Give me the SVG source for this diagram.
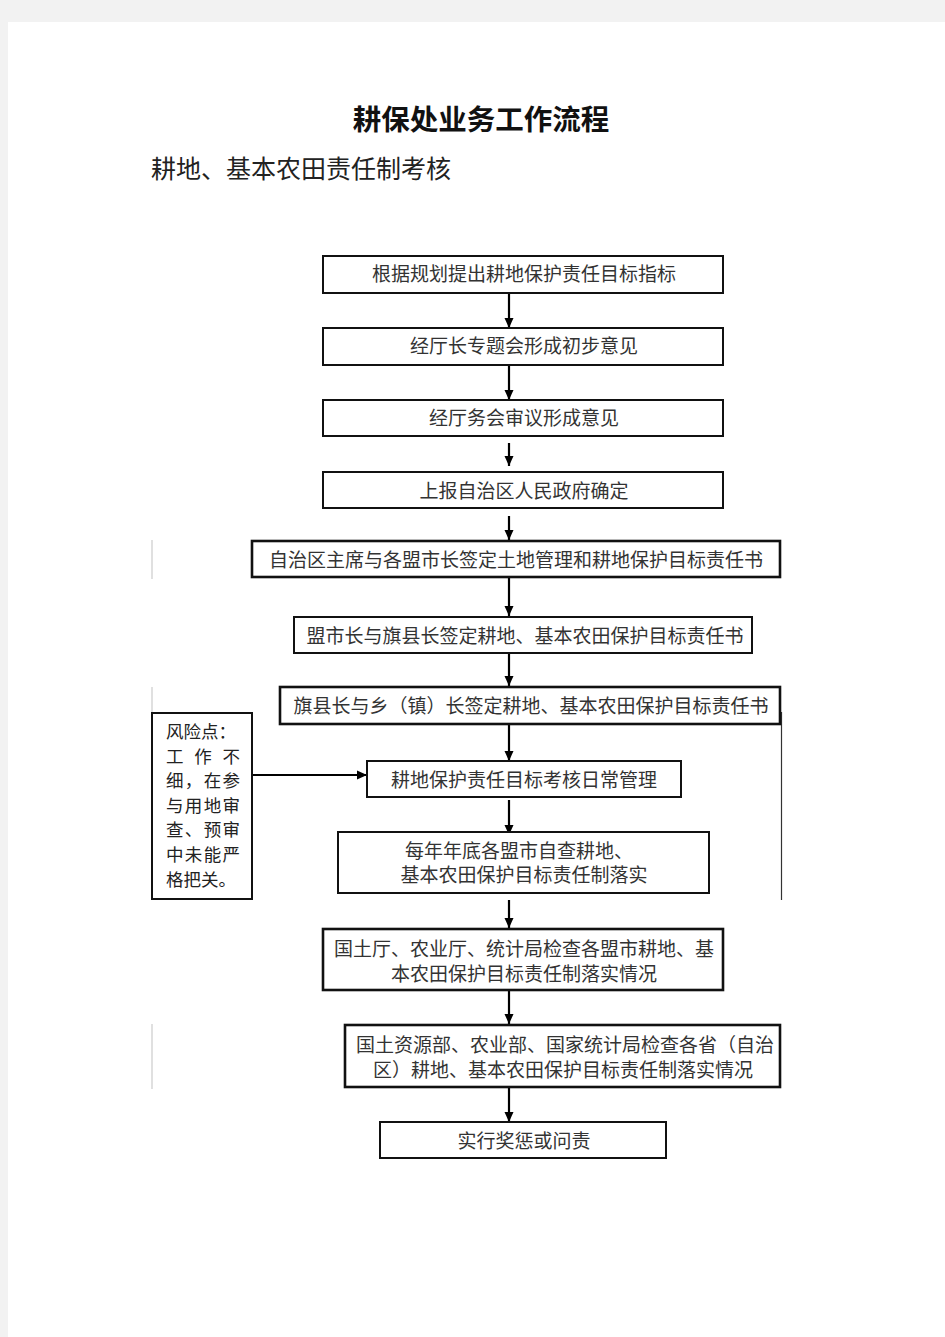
<svg xmlns="http://www.w3.org/2000/svg" width="945" height="1337" viewBox="0 0 945 1337">
<defs>
<marker id="ah" markerWidth="11" markerHeight="11" refX="10" refY="5.5" orient="auto" markerUnits="userSpaceOnUse">
<path d="M0,1 L10,5.5 L0,10 Z" fill="#000"/>
</marker>
<style>
.bx{fill:#fff;stroke:#111;stroke-width:2}
.bk{fill:#fff;stroke:#111;stroke-width:2.6}
.t{font-family:"Liberation Serif","Noto Sans CJK SC",serif;font-size:19px;fill:#333;text-anchor:middle}
.r{font-family:"Liberation Serif","Noto Sans CJK SC",serif;font-size:17.5px;fill:#222}
.c{stroke:#000;stroke-width:2.2;fill:none;marker-end:url(#ah)}
.f{stroke:#ccc;stroke-width:1.2}
</style>
</defs>
<rect x="0" y="0" width="945" height="1337" fill="#f2f2f2"/>
<rect x="8" y="22" width="937" height="1315" fill="#fff"/>
<text x="481" y="130" font-family="'Liberation Serif','Noto Sans CJK SC',serif" font-size="28.5" font-weight="bold" fill="#111" text-anchor="middle">耕保处业务工作流程</text>
<text x="151" y="178" font-family="'Liberation Serif','Noto Sans CJK SC',serif" font-size="25" fill="#222">耕地、基本农田责任制考核</text>

<g id="faint">
<line class="f" x1="152" y1="540" x2="152" y2="579"/>
<line class="f" x1="152" y1="687" x2="152" y2="713"/>
<line class="f" x1="152" y1="1024" x2="152" y2="1089"/>
<line x1="781.5" y1="712" x2="781.5" y2="900" stroke="#333" stroke-width="1.2"/>
</g>

<g id="connectors">
<line class="c" x1="509" y1="293" x2="509" y2="328"/>
<line class="c" x1="509" y1="365" x2="509" y2="400"/>
<line class="c" x1="509" y1="443" x2="509" y2="466"/>
<line class="c" x1="509" y1="516" x2="509" y2="540"/>
<line class="c" x1="509" y1="577" x2="509" y2="616"/>
<line class="c" x1="509" y1="653" x2="509" y2="686"/>
<line class="c" x1="509" y1="724" x2="509" y2="761"/>
<line class="c" x1="509" y1="800" x2="509" y2="835"/>
<line class="c" x1="509" y1="900" x2="509" y2="928"/>
<line class="c" x1="509" y1="988" x2="509" y2="1024"/>
<line class="c" x1="509" y1="1087" x2="509" y2="1122"/>
<line class="c" x1="252" y1="775" x2="367" y2="775"/>
</g>

<g id="n1"><rect class="bx" x="323" y="256" width="400" height="37"/><text class="t" x="524" y="281">根据规划提出耕地保护责任目标指标</text></g>
<g id="n2"><rect class="bx" x="323" y="328" width="400" height="37"/><text class="t" x="524" y="353">经厅长专题会形成初步意见</text></g>
<g id="n3"><rect class="bx" x="323" y="400" width="400" height="36"/><text class="t" x="524" y="425">经厅务会审议形成意见</text></g>
<g id="n4"><rect class="bx" x="323" y="472" width="400" height="36"/><text class="t" x="524" y="498">上报自治区人民政府确定</text></g>
<g id="n5"><rect class="bk" x="252" y="541" width="528" height="36"/><text class="t" x="516" y="567">自治区主席与各盟市长签定土地管理和耕地保护目标责任书</text></g>
<g id="n6"><rect class="bx" x="294" y="617" width="458" height="36"/><text class="t" x="525" y="643">盟市长与旗县长签定耕地、基本农田保护目标责任书</text></g>
<g id="n7"><rect class="bk" x="280" y="687" width="500" height="37"/><text class="t" x="531" y="713">旗县长与乡（镇）长签定耕地、基本农田保护目标责任书</text></g>
<g id="n8"><rect class="bx" x="367" y="761" width="314" height="36"/><text class="t" x="524" y="787">耕地保护责任目标考核日常管理</text></g>
<g id="n9"><rect class="bx" x="338" y="832" width="371" height="61"/><text class="t" x="519" y="858">每年年底各盟市自查耕地、</text><text class="t" x="524" y="882">基本农田保护目标责任制落实</text></g>
<g id="n10"><rect class="bk" x="323" y="929" width="400" height="61"/><text class="t" x="524" y="956">国土厅、农业厅、统计局检查各盟市耕地、基</text><text class="t" x="524" y="981">本农田保护目标责任制落实情况</text></g>
<g id="n11"><rect class="bk" x="345" y="1025" width="435" height="62"/><text class="t" x="565" y="1052">国土资源部、农业部、国家统计局检查各省（自治</text><text class="t" x="563" y="1077">区）耕地、基本农田保护目标责任制落实情况</text></g>
<g id="n12"><rect class="bx" x="380" y="1122" width="286" height="36"/><text class="t" x="524" y="1148">实行奖惩或问责</text></g>

<g id="risk">
<rect class="bx" x="152" y="713" width="100" height="186"/>
<text class="r" x="166" y="738">风险点：</text>
<text class="r" x="166" y="763" textLength="74" lengthAdjust="spacing">工作不</text>
<text class="r" x="166" y="787" textLength="74" lengthAdjust="spacing">细，在参</text>
<text class="r" x="166" y="812" textLength="74" lengthAdjust="spacing">与用地审</text>
<text class="r" x="166" y="836" textLength="74" lengthAdjust="spacing">查、预审</text>
<text class="r" x="166" y="861" textLength="74" lengthAdjust="spacing">中未能严</text>
<text class="r" x="166" y="886">格把关。</text>
</g>
</svg>
